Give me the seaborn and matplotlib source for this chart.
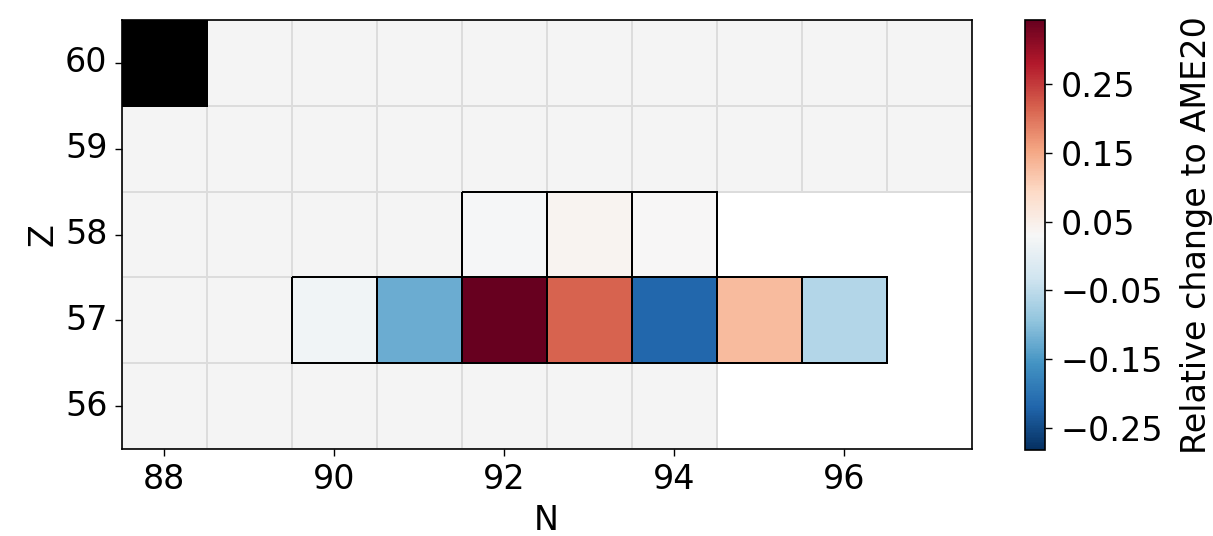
import numpy as np
import pandas as pd
import matplotlib
matplotlib.use("Agg")
import matplotlib.pyplot as plt
from matplotlib.colors import ListedColormap, to_rgba
import seaborn as sns

# ---- data ----
N_values = list(range(88, 98))
Z_values = [60, 59, 58, 57, 56]          # top to bottom

# known nuclei: max N per Z (min N is 88 for all rows shown)
known_max_N = {60: 97, 59: 97, 58: 94, 57: 96, 56: 94}

# relative change to AME20 for the new measurements
z57_N = [90, 91, 92, 93, 94, 95, 96]
z57_vals = [0.020, -0.125, 0.343, 0.215, -0.218, 0.130, -0.062]
z58_N = [92, 93, 94]
z58_vals = [0.026, 0.040, 0.031]

# special (reference) nucleus shown in black
black_cell = (60, 88)

vmin, vmax = -0.282, 0.343
cbar_ticks = [-0.25, -0.15, -0.05, 0.05, 0.15, 0.25]

# ---- tables ----
known = pd.DataFrame(np.nan, index=Z_values, columns=N_values)
for z, nmax in known_max_N.items():
    for n in N_values:
        if n <= nmax:
            known.loc[z, n] = 1.0

vals = pd.DataFrame(np.nan, index=Z_values, columns=N_values)
for n, v in zip(z57_N, z57_vals):
    vals.loc[57, n] = v
for n, v in zip(z58_N, z58_vals):
    vals.loc[58, n] = v

blk = pd.DataFrame(np.nan, index=Z_values, columns=N_values)
blk.loc[black_cell[0], black_cell[1]] = 1.0
known_only = known.where(vals.isna() & blk.isna())


def fix_edges(mesh, df, color):
    """Only draw cell edges for the non-masked cells of this layer."""
    present = ~df.isna().to_numpy().ravel()
    ec = np.zeros((present.size, 4))
    ec[present] = to_rgba(color)
    mesh.set_edgecolor(ec)


# ---- figure ----
plt.rcParams['font.size'] = 24
fig = plt.figure(figsize=(12.13, 5.36), dpi=100)
ax = fig.add_axes([121.5 / 1213, 1 - 449 / 536, 850 / 1213, 429 / 536])
cax = fig.add_axes([1025 / 1213, 1 - 450 / 536, 20 / 1213, 430 / 536])

sns.heatmap(known_only, mask=known_only.isna(), cmap=ListedColormap(['#f4f4f4']),
            linewidths=1.2, linecolor='#dcdcdc', cbar=False, ax=ax,
            xticklabels=True, yticklabels=True)
fix_edges(ax.collections[-1], known_only, '#dcdcdc')
sns.heatmap(blk, mask=blk.isna(), cmap=ListedColormap(['black']),
            linewidths=1.2, linecolor='black', cbar=False, ax=ax,
            xticklabels=True, yticklabels=True)
fix_edges(ax.collections[-1], blk, 'black')
sns.heatmap(vals, mask=vals.isna(), cmap='RdBu_r', vmin=vmin, vmax=vmax,
            linewidths=1.3, linecolor='black', ax=ax, cbar_ax=cax,
            cbar_kws={'ticks': cbar_ticks},
            xticklabels=True, yticklabels=True)
fix_edges(ax.collections[-1], vals, 'black')

ax.set_xticks([i + 0.5 for i in range(0, len(N_values), 2)])
ax.set_xticklabels([str(N_values[i]) for i in range(0, len(N_values), 2)], rotation=0)
ax.set_yticks([i + 0.5 for i in range(len(Z_values))])
ax.set_yticklabels([str(z) for z in Z_values], rotation=0)
ax.set_xlabel('N', labelpad=6)
ax.set_ylabel('Z', labelpad=4)
ax.tick_params(length=5, width=1, pad=5)
for s in ax.spines.values():
    s.set_visible(True)
    s.set_linewidth(1.2)
    s.set_color('black')

cb = ax.collections[-1].colorbar
cb.outline.set_linewidth(1.2)
cb.outline.set_edgecolor('black')
cb.ax.tick_params(length=5, width=1, pad=6)
cb.ax.set_yticklabels([f"{t:.2f}".replace('-', '\u2212') for t in cbar_ticks])
cb.set_label('Relative change to AME20', labelpad=12)

fig.savefig('out.png', dpi=100)
